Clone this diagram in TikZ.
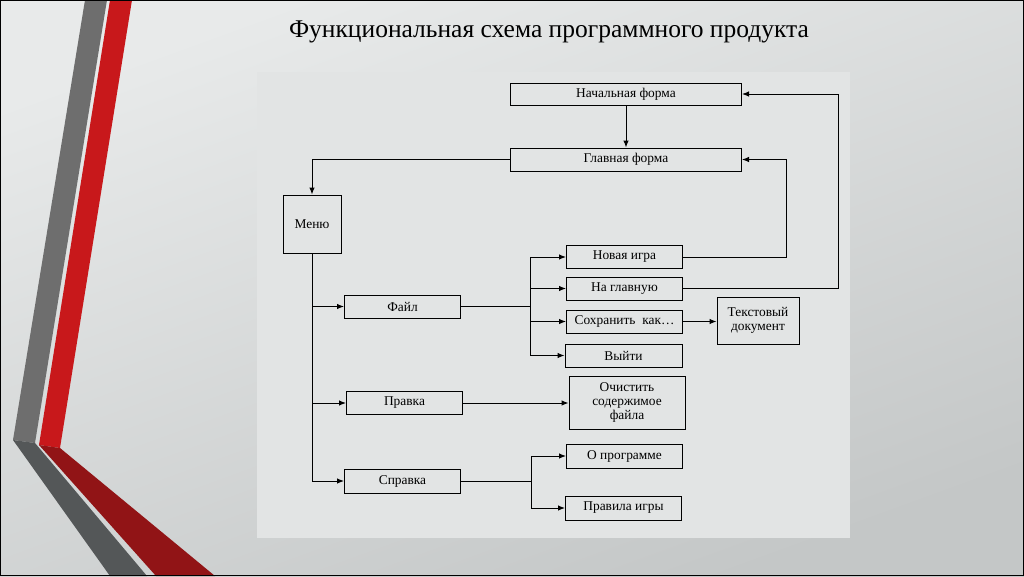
\documentclass[tikz,border=0pt]{standalone}
\usepackage{fontspec}
\setmainfont{Liberation Serif}
\usetikzlibrary{arrows.meta,shadings}
\definecolor{bgtop}{RGB}{232,234,234}
\definecolor{bgbot}{RGB}{196,199,199}
\definecolor{panel}{RGB}{226,228,228}
\definecolor{grayup}{RGB}{110,110,110}
\definecolor{graylo}{RGB}{84,87,88}
\definecolor{redup}{RGB}{200,24,27}
\definecolor{redlo}{RGB}{145,20,22}
\begin{document}
\begin{tikzpicture}[x=1pt,y=-1pt,>={Latex[length=7pt,width=5.5pt]},
    blk/.style={draw,line width=1pt,inner sep=0pt,align=center,font=\fontsize{13.4}{14}\selectfont},
    lnk/.style={line width=1pt}]
        % background and frame
        \useasboundingbox (0,0) rectangle (1024,576);
        \shade[top color=bgtop,bottom color=bgbot,shading angle=20] (0,0) rectangle (1024,576);
        \fill[grayup] (85,0) -- (107,0) -- (35,443) -- (13,440) -- cycle;
        \fill[graylo] (13,440) -- (35,443) -- (147,576) -- (110,576) -- cycle;
        \fill[redup] (110,0) -- (132,0) -- (60,448) -- (39,445) -- cycle;
        \fill[redlo] (39,445) -- (60,448) -- (215,576) -- (156,576) -- cycle;
        \draw[line width=1pt] (0.5,0.5) rectangle (1023.5,575.5);
        \node[font=\fontsize{25.5}{28}\selectfont] (title) at (549,32) {Функциональная схема программного продукта};
        \fill[panel] (257,72) rectangle (850,538);
        % boxes
        \node[blk,minimum width=231pt,minimum height=22pt] (nach) at (626,94) {Начальная форма};
        \node[blk,minimum width=231pt,minimum height=23pt] (glav) at (626,159.5) {Главная форма};
        \node[blk,minimum width=58pt,minimum height=58pt] (menu) at (312,224) {Меню};
        \node[blk,minimum width=116pt,minimum height=23pt] (fail) at (402.5,306.5) {Файл};
        \node[blk,minimum width=116pt,minimum height=23pt] (pravka) at (404.5,403) {Правка};
        \node[blk,minimum width=116pt,minimum height=24pt] (spravka) at (402.5,481) {Справка};
        \node[blk,minimum width=116pt,minimum height=23pt] (nov) at (624.5,257) {Новая игра};
        \node[blk,minimum width=116pt,minimum height=23pt] (nagl) at (624.5,288.5) {На главную};
        \node[blk,minimum width=116pt,minimum height=23pt] (save) at (624.5,321.5) {Сохранить\ \ как…};
        \node[blk,minimum width=117pt,minimum height=23pt] (exit) at (623.5,355.5) {Выйти};
        \node[blk,minimum width=82pt,minimum height=47pt] (txt) at (758,320.5) {Текстовый\\документ};
        \node[blk,minimum width=116pt,minimum height=53pt] (clear) at (627,402.5) {Очистить\\содержимое\\файла};
        \node[blk,minimum width=116pt,minimum height=24pt] (about) at (624.5,456) {О программе};
        \node[blk,minimum width=116pt,minimum height=24pt] (rules) at (623.5,508) {Правила игры};
        % links
        \draw[lnk,->] (nach) -- (glav);
        \draw[lnk,->] (glav.west) -| (menu.north);
        \draw[lnk,->] (menu.south) |- (spravka.west);
        \draw[lnk,->] (menu.south |- fail.west) -- (fail.west);
        \draw[lnk,->] (menu.south |- pravka.west) -- (pravka.west);
        \draw[lnk] (fail.east) -- ++(69,0) coordinate (hubf);
        \draw[lnk] (hubf |- nov.west) -- (hubf |- exit.west);
        \foreach \b in {nov,nagl,save,exit}
            \draw[lnk,->] (hubf |- \b.west) -- (\b.west);
        \draw[lnk,->] (save.east) -- (save.east -| txt.west);
        \draw[lnk,->] (pravka.east) -- (pravka.east -| clear.west);
        \draw[lnk] (spravka.east) -- ++(70,0) coordinate (hubs);
        \draw[lnk] (hubs |- about.west) -- (hubs |- rules.west);
        \foreach \b in {about,rules}
            \draw[lnk,->] (hubs |- \b.west) -- (\b.west);
        \draw[lnk,->] (nov.east) -- ++(103,0) |- (glav.east);
        \draw[lnk,->] (nagl.east) -- ++(155,0) |- (nach.east);
\end{tikzpicture}
\end{document}
